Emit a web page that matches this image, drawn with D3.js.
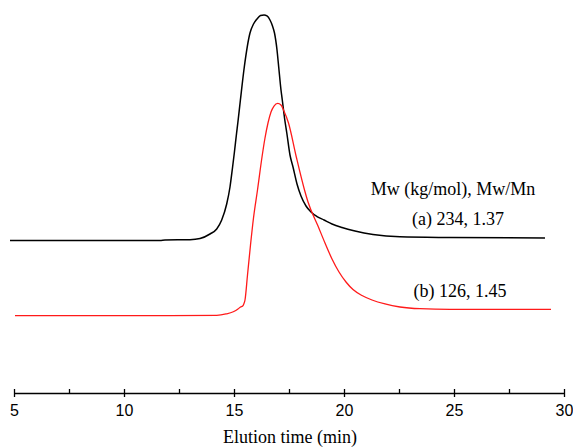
<!DOCTYPE html>
<html>
<head>
<meta charset="utf-8">
<script src="https://cdn.jsdelivr.net/npm/d3@7/dist/d3.min.js"></script>
<style>
html,body{margin:0;padding:0;background:#fff;}
svg{display:block;}
</style>
</head>
<body>
<svg id="chart" width="573" height="447"></svg>
<script>
// Elution time (min) and detector signal (arbitrary units) for sample (a)
const timeA = [4.818, 8.909, 11.636, 11.864, 13.0, 13.455, 13.909, 14.214, 14.441, 14.668, 14.818, 14.936, 15.014, 15.118, 15.173, 15.291, 15.468, 15.727, 15.886, 16.045, 16.205, 16.364, 16.5, 16.636, 16.75, 16.841, 16.955, 17.032, 17.136, 17.195, 17.309, 17.4, 17.545, 17.682, 17.864, 18.045, 18.273, 18.5, 18.773, 19.091, 19.455, 19.909, 20.5, 21.318, 22.545, 24.818, 29.136];
const signalA = [39.87, 39.87, 39.87, 40.0, 40.08, 40.39, 41.58, 42.89, 45.26, 49.47, 53.95, 59.21, 62.89, 68.16, 70.79, 76.84, 85.53, 94.47, 96.84, 98.16, 99.08, 99.21, 98.95, 97.89, 96.32, 94.47, 90.0, 85.53, 79.47, 76.84, 71.58, 68.16, 62.37, 59.21, 54.74, 51.58, 48.95, 47.37, 46.18, 45.26, 44.21, 43.29, 42.37, 41.45, 40.84, 40.66, 40.53];
// sample (b)
const timeB = [5.045, 11.182, 14.214, 14.636, 14.968, 15.182, 15.295, 15.395, 15.445, 15.5, 15.614, 15.75, 15.886, 16.068, 16.273, 16.409, 16.545, 16.682, 16.818, 16.986, 17.136, 17.25, 17.477, 17.832, 18.205, 18.364, 18.818, 19.136, 19.455, 19.773, 20.091, 20.409, 20.818, 21.273, 21.864, 22.545, 23.455, 24.818, 29.409];
const signalB = [20.08, 20.08, 20.18, 20.53, 21.11, 21.84, 22.37, 22.63, 23.16, 24.21, 30.79, 38.68, 45.79, 53.16, 61.84, 66.84, 70.79, 73.68, 75.26, 75.97, 75.53, 74.21, 70.79, 61.84, 53.16, 50.0, 43.68, 39.21, 35.0, 31.58, 28.95, 26.97, 25.39, 24.21, 23.16, 22.37, 21.92, 21.76, 21.76];

const majorTicks = [5, 10, 15, 20, 25, 30];
const minorTicks = [7.5, 12.5, 17.5, 22.5, 27.5];
const xTitle = "Elution time (min)";
const legendTitle = "Mw (kg/mol), Mw/Mn";
const labelA = "(a) 234, 1.37";
const labelB = "(b) 126, 1.45";

const svg = d3.select("#chart");
const x = d3.scaleLinear().domain([5, 30]).range([14, 564]);
const y = d3.scaleLinear().domain([0, 100]).range([392, 12]);
const axisY = 393;

const line = d3.line()
  .x(d => x(d[0]))
  .y(d => y(d[1]))
  .curve(d3.curveMonotoneX);

const dataA = timeA.map((t, i) => [t, signalA[i]]);
const dataB = timeB.map((t, i) => [t, signalB[i]]);

svg.append("path").datum(dataA)
  .attr("d", line).attr("fill", "none")
  .attr("stroke", "#000").attr("stroke-width", 1.5);

svg.append("path").datum(dataB)
  .attr("d", line).attr("fill", "none")
  .attr("stroke", "#ff1a1a").attr("stroke-width", 1.3);

// axis: labels + downward major ticks
const ax = svg.append("g").attr("transform", `translate(0,${axisY})`)
  .call(d3.axisBottom(x).tickValues(majorTicks).tickSize(4).tickSizeOuter(0).tickFormat(d3.format("d")));
ax.select(".domain").attr("stroke", "#000").attr("stroke-width", 1.6);
ax.selectAll(".tick line").attr("stroke", "#000").attr("stroke-width", 1.3);
ax.selectAll(".tick text")
  .attr("y", 23).attr("dy", null)
  .attr("font-family", "'Liberation Sans', Arial, sans-serif")
  .attr("font-size", 16).attr("fill", "#000");

// upward ticks for all (major + minor)
const ax2 = svg.append("g").attr("transform", `translate(0,${axisY})`)
  .call(d3.axisBottom(x).tickValues(majorTicks.concat(minorTicks)).tickSize(-4).tickSizeOuter(0).tickFormat(""));
ax2.select(".domain").remove();
ax2.selectAll(".tick line").attr("stroke", "#000").attr("stroke-width", 1.3);

const serif = "'Liberation Serif', 'Times New Roman', serif";
svg.append("text").attr("x", 290).attr("y", 443)
  .attr("text-anchor", "middle").attr("font-family", serif).attr("font-size", 18)
  .text(xTitle);

svg.append("text").attr("x", 453).attr("y", 195)
  .attr("text-anchor", "middle").attr("font-family", serif).attr("font-size", 18)
  .text(legendTitle);
svg.append("text").attr("x", 458).attr("y", 225)
  .attr("text-anchor", "middle").attr("font-family", serif).attr("font-size", 18)
  .text(labelA);
svg.append("text").attr("x", 460).attr("y", 297)
  .attr("text-anchor", "middle").attr("font-family", serif).attr("font-size", 18)
  .text(labelB);
</script>
</body>
</html>
